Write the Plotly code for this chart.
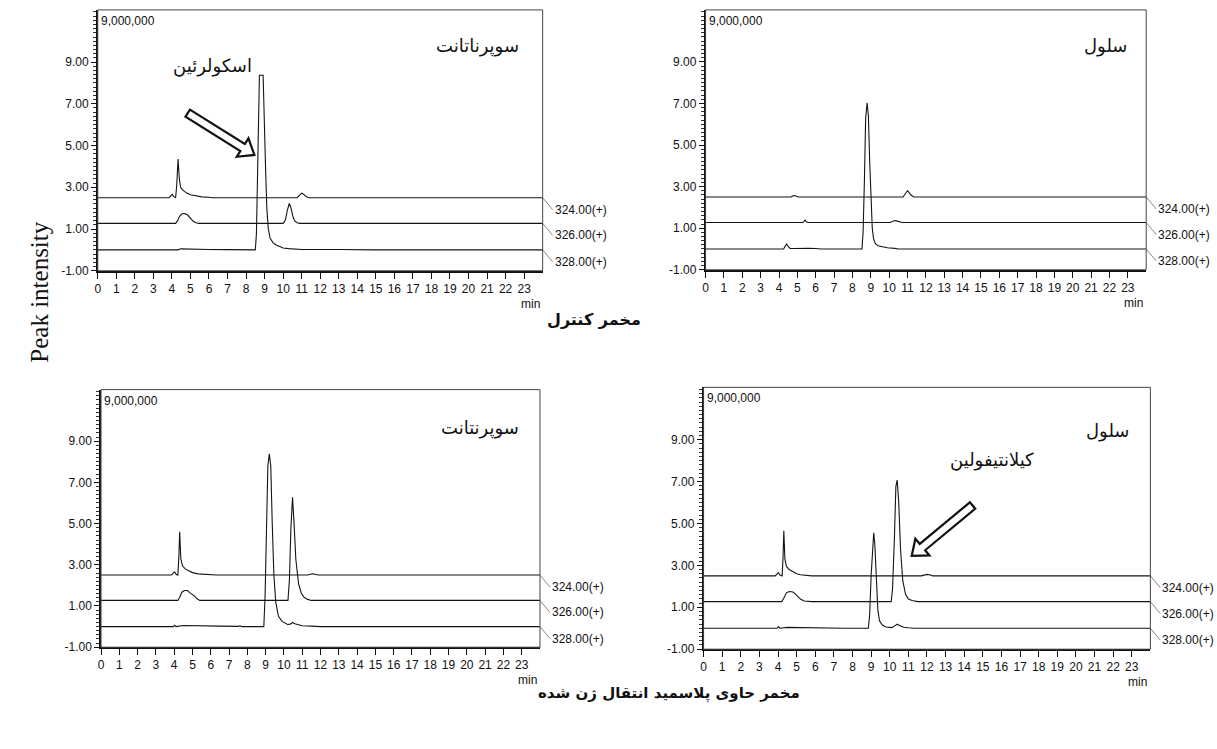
import math
import plotly.graph_objects as go

W, H = 1217, 749

# ---------------- data ----------------
mz_labels = ["324.00(+)", "326.00(+)", "328.00(+)"]
trace_offsets = [2.5, 1.27, 0.0]          # stacked baselines of the three SIM traces
x_ticks = list(range(0, 24))
y_tick_vals = [9, 7, 5, 3, 1, -1]
y_tick_text = ["9.00", "7.00", "5.00", "3.00", "1.00", "-1.00"]
scale_text = "9,000,000"

# panel 1: control yeast, supernatant
tl_324_t = [0, 3.85, 3.95, 4.02, 4.1, 4.2, 4.26, 4.33, 4.4, 4.47, 4.6, 4.8, 5.0, 5.3, 5.6, 6.0, 6.2, 10.75, 10.9, 11.0, 11.1, 11.25, 11.4, 24]
tl_324_h = [0, 0, 0.1, 0.16, 0.05, 0, 0.6, 1.85, 0.9, 0.5, 0.35, 0.22, 0.14, 0.08, 0.04, 0.02, 0, 0, 0.15, 0.22, 0.17, 0.05, 0, 0]
tl_326_t = [0, 4.2, 4.3, 4.42, 4.55, 4.7, 4.85, 5.0, 5.15, 5.3, 5.45, 10.0, 10.12, 10.22, 10.33, 10.42, 10.52, 10.62, 10.75, 10.9, 24]
tl_326_h = [0, 0, 0.12, 0.35, 0.46, 0.47, 0.4, 0.25, 0.1, 0.03, 0, 0, 0.15, 0.6, 0.96, 0.75, 0.35, 0.12, 0.03, 0, 0]
tl_328_t = [0, 4.3, 4.5, 4.8, 5.2, 6.0, 7.0, 8.5, 8.56, 8.62, 8.68, 8.72, 8.92, 8.98, 9.05, 9.12, 9.2, 9.3, 9.45, 9.6, 9.8, 10.0, 10.3, 10.6, 11.0, 13.0, 14.8, 15.0, 24]
tl_328_h = [0, 0, 0.05, 0.04, 0.02, 0.02, 0.01, 0, 0.8, 3.5, 7.0, 8.37, 8.37, 6.8, 4.0, 2.0, 1.0, 0.55, 0.35, 0.25, 0.15, 0.09, 0.06, 0.03, 0.02, 0.02, 0.01, 0, 0]

# panel 2: control yeast, cell
tr_324_t = [0, 4.65, 4.75, 4.82, 4.92, 5.05, 10.75, 10.85, 10.95, 11.0, 11.1, 11.2, 11.35, 24]
tr_324_h = [0, 0, 0.05, 0.07, 0.05, 0, 0, 0.12, 0.28, 0.3, 0.2, 0.08, 0, 0]
tr_326_t = [0, 5.3, 5.38, 5.43, 5.5, 5.6, 10.05, 10.2, 10.3, 10.4, 10.55, 10.7, 24]
tr_326_h = [0, 0, 0.08, 0.12, 0.03, 0, 0, 0.07, 0.1, 0.08, 0.03, 0, 0]
tr_328_t = [0, 4.25, 4.35, 4.42, 4.5, 4.6, 4.8, 5.0, 5.3, 5.45, 5.6, 6.0, 6.3, 8.52, 8.58, 8.65, 8.72, 8.8, 8.87, 8.94, 9.0, 9.08, 9.15, 9.25, 9.4, 9.6, 9.9, 10.3, 10.5, 24]
tr_328_h = [0, 0, 0.15, 0.24, 0.12, 0.03, 0.02, 0.03, 0.02, 0.04, 0.03, 0.02, 0, 0, 0.8, 3.2, 6.3, 7.03, 6.4, 4.2, 2.3, 1.0, 0.5, 0.25, 0.15, 0.1, 0.06, 0.03, 0, 0]

# panel 3: transgenic yeast, supernatant
bl_324_t = [0, 3.85, 3.95, 4.02, 4.1, 4.2, 4.25, 4.3, 4.36, 4.45, 4.6, 4.8, 5.0, 5.3, 5.7, 6.2, 6.3, 11.3, 11.45, 11.55, 11.7, 11.85, 24]
bl_324_h = [0, 0, 0.1, 0.16, 0.04, 0, 0.8, 2.1, 0.8, 0.45, 0.3, 0.2, 0.12, 0.06, 0.04, 0.03, 0, 0, 0.04, 0.06, 0.04, 0, 0]
bl_326_t = [0, 4.2, 4.3, 4.42, 4.55, 4.72, 4.85, 5.0, 5.1, 5.25, 5.4, 10.22, 10.3, 10.38, 10.47, 10.55, 10.65, 10.8, 10.95, 11.1, 11.3, 11.5, 24]
bl_326_h = [0, 0, 0.15, 0.4, 0.48, 0.48, 0.38, 0.3, 0.22, 0.08, 0, 0, 1.0, 3.5, 5.0, 3.8, 2.0, 0.8, 0.35, 0.15, 0.05, 0, 0]
bl_328_t = [0, 3.95, 4.02, 4.1, 4.5, 4.8, 5.5, 6.5, 7.5, 7.6, 7.7, 8.9, 8.97, 9.05, 9.12, 9.2, 9.28, 9.36, 9.45, 9.55, 9.7, 9.9, 10.2, 10.35, 10.47, 10.6, 10.8, 11.0, 11.5, 12.0, 24]
bl_328_h = [0, 0, 0.06, 0, 0.05, 0.05, 0.03, 0.02, 0.01, 0.04, 0, 0, 1.5, 5.0, 7.8, 8.38, 7.8, 5.0, 2.5, 1.2, 0.5, 0.25, 0.1, 0.12, 0.2, 0.14, 0.08, 0.04, 0.02, 0, 0]

# panel 4: transgenic yeast, cell
br_324_t = [0, 3.85, 3.95, 4.02, 4.1, 4.22, 4.27, 4.31, 4.37, 4.45, 4.6, 4.8, 5.0, 5.2, 5.5, 5.8, 11.7, 11.9, 12.0, 12.15, 12.3, 24]
br_324_h = [0, 0, 0.1, 0.16, 0.04, 0, 0.9, 2.15, 0.8, 0.45, 0.3, 0.18, 0.1, 0.05, 0.02, 0, 0, 0.05, 0.07, 0.05, 0, 0]
br_326_t = [0, 4.2, 4.3, 4.45, 4.6, 4.8, 4.95, 5.05, 5.2, 5.4, 5.7, 5.8, 10.08, 10.15, 10.25, 10.33, 10.4, 10.48, 10.58, 10.7, 10.85, 11.0, 11.2, 11.5, 24]
br_326_h = [0, 0, 0.15, 0.42, 0.48, 0.46, 0.35, 0.25, 0.12, 0.03, 0.02, 0, 0, 0.6, 3.0, 5.5, 5.8, 4.8, 2.5, 1.0, 0.35, 0.12, 0.05, 0, 0]
br_328_t = [0, 3.95, 4.02, 4.1, 4.5, 5.0, 6.0, 7.0, 7.6, 8.85, 8.92, 9.0, 9.08, 9.14, 9.2, 9.28, 9.36, 9.45, 9.6, 9.8, 10.1, 10.25, 10.4, 10.55, 10.75, 11.0, 11.3, 24]
br_328_h = [0, 0, 0.08, 0, 0.04, 0.03, 0.02, 0.02, 0, 0, 0.6, 2.5, 4.0, 4.56, 4.0, 2.2, 0.9, 0.35, 0.15, 0.06, 0.03, 0.1, 0.19, 0.12, 0.05, 0.02, 0, 0]

panel_titles = ["سوپرناتانت", "سلول", "سوپرنتانت", "سلول"]
compound_labels = ["اسکولرئین", "کیلانتیفولین"]
caption_top = "مخمر کنترل"
caption_bottom = "مخمر حاوی پلاسمید انتقال ژن شده"
y_title = "Peak intensity"

panel_traces = [
    [(tl_324_t, tl_324_h), (tl_326_t, tl_326_h), (tl_328_t, tl_328_h)],
    [(tr_324_t, tr_324_h), (tr_326_t, tr_326_h), (tr_328_t, tr_328_h)],
    [(bl_324_t, bl_324_h), (bl_326_t, bl_326_h), (bl_328_t, bl_328_h)],
    [(br_324_t, br_324_h), (br_326_t, br_326_h), (br_328_t, br_328_h)],
]

# ---------------- layout config ----------------
X_RANGE = [0, 24]
Y_RANGE = [-1, 11.5]
domains = [
    ([95 / W, 541 / W], [1 - 273.3 / H, 1 - 10 / H]),
    ([704.3 / W, 1146 / W], [1 - 272.3 / H, 1 - 10 / H]),
    ([98.3 / W, 538.3 / W], [1 - 653.3 / H, 1 - 393.3 / H]),
    ([702.3 / W, 1150.2 / W], [1 - 655.3 / H, 1 - 391 / H]),
]
title_pos = [(20.5, 9.75), (21.8, 9.76), (20.7, 9.66), (21.7, 9.4)]
compound_pos = [(0, 6.2, 8.8), (3, 15.5, 8.03)]
arrows = [(0, (4.85, 6.55), (8.45, 4.55)), (3, (14.45, 5.86), (11.18, 3.45))]

TICKF = "Liberation Sans, Arial, sans-serif"
ARABIC = "DejaVu Sans, Noto Sans, sans-serif"
SERIF = "Liberation Serif, Times New Roman, serif"

fig = go.Figure()
layout = dict(width=W, height=H, margin=dict(l=0, r=0, t=0, b=0),
              paper_bgcolor="white", plot_bgcolor="white", showlegend=False)
annotations = []
shapes = []

for p in range(4):
    n = p + 1
    xa = "x" if n == 1 else f"x{n}"
    ya = "y" if n == 1 else f"y{n}"
    xdom, ydom = domains[p]
    for i, (t, h) in enumerate(panel_traces[p]):
        fig.add_trace(go.Scatter(
            x=t, y=[v + trace_offsets[i] for v in h], mode="lines",
            line=dict(color="#141414", width=1.1), xaxis=xa, yaxis=ya,
            name=mz_labels[i], hoverinfo="skip"))
        annotations.append(dict(
            x=X_RANGE[1], y=trace_offsets[i], xref=xa, yref=ya, text=mz_labels[i],
            showarrow=True, arrowhead=0, arrowwidth=0.7, arrowcolor="#555",
            ax=10, ay=12, xanchor="left", yanchor="middle",
            font=dict(family=TICKF, size=12, color="#111")))
    layout[f"xaxis{'' if n == 1 else n}"] = dict(
        domain=xdom, anchor=ya, range=X_RANGE, tickmode="array", tickvals=x_ticks,
        ticks="outside", ticklen=6, tickwidth=1, tickcolor="#111",
        showline=True, linecolor="#111", linewidth=1.6, mirror=False,
        showgrid=False, zeroline=False, fixedrange=True,
        tickfont=dict(family=TICKF, size=12, color="#111"))
    layout[f"yaxis{'' if n == 1 else n}"] = dict(
        domain=ydom, anchor=xa, range=Y_RANGE, tickmode="array",
        tickvals=y_tick_vals, ticktext=y_tick_text,
        ticks="outside", ticklen=5, tickwidth=1, tickcolor="#111",
        minor=dict(tickmode="linear", tick0=-1, dtick=0.2, ticks="outside",
                   ticklen=3, tickwidth=1, tickcolor="#333", showgrid=False),
        showline=True, linecolor="#111", linewidth=1.6, mirror=False,
        showgrid=False, zeroline=False, fixedrange=True,
        tickfont=dict(family=TICKF, size=12, color="#111"))
    shapes.append(dict(type="rect", xref=f"{xa} domain", yref=f"{ya} domain",
                       x0=0, x1=1, y0=0, y1=1, line=dict(color="#444", width=1)))
    annotations.append(dict(x=0, y=1, xref=f"{xa} domain", yref=f"{ya} domain",
                            text=scale_text, showarrow=False, xanchor="left", yanchor="top",
                            xshift=1, yshift=-2,
                            font=dict(family=TICKF, size=12, color="#111")))
    annotations.append(dict(x=1, y=0, xref=f"{xa} domain", yref=f"{ya} domain",
                            text="min", showarrow=False, xanchor="right", yanchor="top",
                            xshift=-1, yshift=-24,
                            font=dict(family=TICKF, size=12, color="#111")))
    tx, ty = title_pos[p]
    annotations.append(dict(x=tx, y=ty, xref=xa, yref=ya, text=panel_titles[p],
                            showarrow=False, font=dict(family=ARABIC, size=18, color="#111")))

for (p, cx, cy), txt in zip(compound_pos, compound_labels):
    n = p + 1
    xa = "x" if n == 1 else f"x{n}"
    ya = "y" if n == 1 else f"y{n}"
    annotations.append(dict(x=cx, y=cy, xref=xa, yref=ya, text=txt, showarrow=False,
                            font=dict(family=ARABIC, size=18, color="#111")))


def hollow_arrow(p, tail, tip, shaft=4.2, head=11, head_len=14):
    xdom, ydom = domains[p]
    sx = (xdom[1] - xdom[0]) * W / (X_RANGE[1] - X_RANGE[0])
    sy = (ydom[1] - ydom[0]) * H / (Y_RANGE[1] - Y_RANGE[0])
    x0, y0 = tail[0] * sx, tail[1] * sy
    x1, y1 = tip[0] * sx, tip[1] * sy
    L = math.hypot(x1 - x0, y1 - y0)
    ux, uy = (x1 - x0) / L, (y1 - y0) / L
    nx, ny = -uy, ux
    bx, by = x1 - ux * head_len, y1 - uy * head_len
    pts = [(x0 + nx * shaft, y0 + ny * shaft), (bx + nx * shaft, by + ny * shaft),
           (bx + nx * head, by + ny * head), (x1, y1),
           (bx - nx * head, by - ny * head), (bx - nx * shaft, by - ny * shaft),
           (x0 - nx * shaft, y0 - ny * shaft)]
    return "M " + " L ".join(f"{a / sx:.4f},{b / sy:.4f}" for a, b in pts) + " Z"


for p, tail, tip in arrows:
    n = p + 1
    xa = "x" if n == 1 else f"x{n}"
    ya = "y" if n == 1 else f"y{n}"
    shapes.append(dict(type="path", xref=xa, yref=ya, path=hollow_arrow(p, tail, tip),
                       fillcolor="white", line=dict(color="#111", width=2.2)))

annotations.append(dict(x=21 / W, y=1 - 295 / H, xref="paper", yref="paper", text=y_title,
                        textangle=-90, showarrow=False,
                        font=dict(family=SERIF, size=25, color="#111")))
annotations.append(dict(x=592 / W, y=1 - 323 / H, xref="paper", yref="paper",
                        text=f"<b>{caption_top}</b>", showarrow=False,
                        font=dict(family=ARABIC, size=16, color="#111")))
annotations.append(dict(x=668 / W, y=1 - 712 / H, xref="paper", yref="paper",
                        text=f"<b>{caption_bottom}</b>", showarrow=False,
                        font=dict(family=ARABIC, size=15, color="#111")))

layout["annotations"] = annotations
layout["shapes"] = shapes
fig.update_layout(**layout)
fig.write_html("out.html", config={"displayModeBar": False},
               post_script="document.body.style.margin='0';document.body.style.overflow='hidden';")
